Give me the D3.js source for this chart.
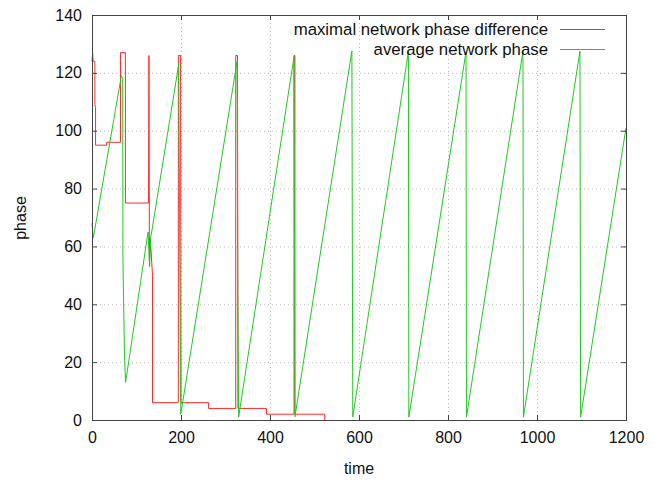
<!DOCTYPE html>
<html>
<head>
<meta charset="utf-8">
<script src="https://cdn.jsdelivr.net/npm/d3@7"></script>
<style>
  body { margin: 0; background: #fff; }
  svg { display: block; font-family: "Liberation Sans", Arial, sans-serif; }
</style>
</head>
<body>
<script>
const w = 657;
const h = 480;

// maximal network phase difference
const diffTime  = [0, 1.5, 2.5, 6.5, 6.5, 8, 8, 33, 33, 64, 64, 75, 75, 127, 128, 129, 131, 136, 136, 194, 194, 199, 200, 262, 262, 323, 323, 327, 328, 392, 392, 454, 454, 456, 456, 523, 523];
const diffPhase = [124, 127, 124, 124, 109, 108, 95, 95, 96, 96, 127, 127, 75, 75, 126, 55, 63, 50, 6, 6, 126, 126, 6, 6, 4, 4, 126, 126, 4, 4, 2, 2, 126, 126, 2, 2, 0];

// average network phase
const avgTime  = [0, 3, 66, 69, 69.5, 73, 75.5, 126, 129.5, 132, 195, 197, 199.5, 326, 327.5, 329.5, 454, 456, 584, 586, 711, 712, 840.5, 841.5, 968.5, 969.5, 1096.5, 1098, 1200];
const avgPhase = [68, 63, 119, 118, 56, 22, 13, 65, 53, 63, 123, 66, 2, 124, 50, 1, 125.6, 1.1, 127.6, 1, 127.3, 1, 127.3, 1, 127.5, 1, 127.5, 1, 101];

const xTicks = [0, 200, 400, 600, 800, 1000, 1200];
const yTicks = [0, 20, 40, 60, 80, 100, 120, 140];

const seriesNames = ["maximal network phase difference", "average network phase"];
const seriesColors = ["#ff2a2a", "#22c822"];

const padLeft = 92, padRight = 626, padTop = 15, padBottom = 420;

const svg = d3.select("body").append("svg")
  .attr("width", w)
  .attr("height", h);

const x = d3.scaleLinear().domain([0, 1200]).range([padLeft, padRight]);
const y = d3.scaleLinear().domain([0, 140]).range([padBottom, padTop]);

// grid
svg.append("g")
  .selectAll("line")
  .data(xTicks.slice(1, -1))
  .enter()
  .append("line")
  .attr("x1", d => x(d) + 0.5).attr("x2", d => x(d) + 0.5)
  .attr("y1", padTop).attr("y2", padBottom)
  .attr("stroke", "#bbb")
  .attr("stroke-dasharray", "1,3");

svg.append("g")
  .selectAll("line")
  .data(yTicks.slice(1, -1))
  .enter()
  .append("line")
  .attr("x1", padLeft).attr("x2", padRight)
  .attr("y1", d => y(d) + 0.5).attr("y2", d => y(d) + 0.5)
  .attr("stroke", "#bbb")
  .attr("stroke-dasharray", "1,3");

// data lines
const series = [
  d3.zip(diffTime, diffPhase),
  d3.zip(avgTime, avgPhase)
];

const line = d3.line()
  .x(d => x(d[0]))
  .y(d => y(d[1]));

svg.append("g")
  .selectAll("path")
  .data(series)
  .enter()
  .append("path")
  .attr("d", line)
  .attr("fill", "none")
  .attr("stroke", (d, i) => seriesColors[i])
  .attr("stroke-width", 1);

// axes: ticks inward, mirrored on the opposite side
const tickLen = 5;
const axisColor = "#444";

svg.append("g")
  .attr("transform", "translate(0," + padBottom + ")")
  .call(d3.axisBottom(x).tickValues(xTicks).tickFormat(d3.format("d"))
    .tickSizeInner(-tickLen).tickSizeOuter(0).tickPadding(12))
  .call(g => g.select(".domain").remove());

svg.append("g")
  .attr("transform", "translate(0," + padTop + ")")
  .call(d3.axisTop(x).tickValues(xTicks).tickSizeInner(-tickLen).tickSizeOuter(0).tickFormat(""))
  .call(g => g.select(".domain").remove());

svg.append("g")
  .attr("transform", "translate(" + padLeft + ",0)")
  .call(d3.axisLeft(y).tickValues(yTicks).tickFormat(d3.format("d"))
    .tickSizeInner(-tickLen).tickSizeOuter(0).tickPadding(10))
  .call(g => g.select(".domain").remove());

svg.append("g")
  .attr("transform", "translate(" + padRight + ",0)")
  .call(d3.axisRight(y).tickValues(yTicks).tickSizeInner(-tickLen).tickSizeOuter(0).tickFormat(""))
  .call(g => g.select(".domain").remove());

svg.selectAll(".tick line").attr("stroke", axisColor);
svg.selectAll(".tick text")
  .attr("fill", "#111")
  .style("font-size", "16px")
  .style("font-family", "'Liberation Sans', Arial, sans-serif");

// border
svg.append("rect")
  .attr("x", padLeft + 0.5)
  .attr("y", padTop + 0.5)
  .attr("width", padRight - padLeft)
  .attr("height", padBottom - padTop)
  .attr("fill", "none")
  .attr("stroke", axisColor);

// axis titles
svg.append("text")
  .attr("x", (padLeft + padRight) / 2)
  .attr("y", 474)
  .attr("text-anchor", "middle")
  .style("font-size", "16px")
  .attr("fill", "#111")
  .text("time");

svg.append("text")
  .attr("transform", "translate(26,218) rotate(-90)")
  .attr("text-anchor", "middle")
  .style("font-size", "16px")
  .attr("fill", "#111")
  .text("phase");

// legend
const legend = svg.append("g")
  .selectAll("g")
  .data(seriesNames)
  .enter()
  .append("g")
  .attr("transform", (d, i) => "translate(0," + (29 + i * 20) + ")");

legend.append("text")
  .attr("x", 548)
  .attr("y", 6)
  .attr("text-anchor", "end")
  .style("font-size", "16.8px")
  .attr("fill", "#111")
  .text(d => d);

legend.append("line")
  .attr("x1", 560).attr("x2", 605)
  .attr("y1", 0.5).attr("y2", 0.5)
  .attr("stroke", (d, i) => seriesColors[i]);
</script>
</body>
</html>
